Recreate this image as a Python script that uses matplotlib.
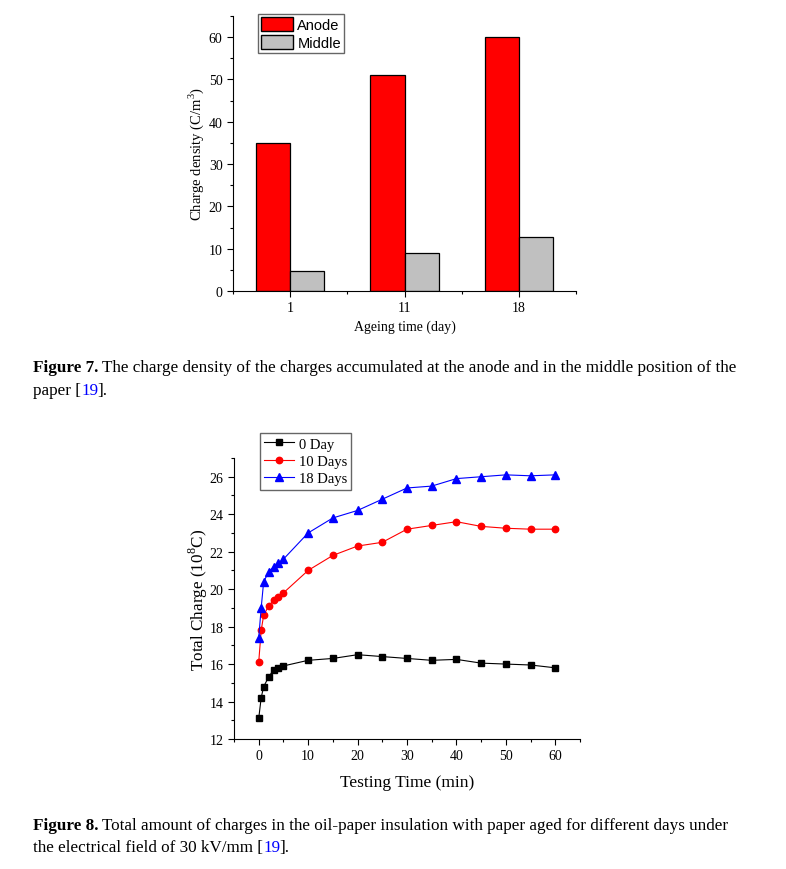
import matplotlib
matplotlib.use("Agg")
import matplotlib.pyplot as plt
from matplotlib.ticker import MultipleLocator
from matplotlib.patches import Patch

# Figure 7 data
ageing_days = ["1", "11", "18"]
anode_density = [35, 51, 60]
middle_density = [4.8, 9.0, 12.7]

# Figure 8 data
test_time = [0, 0.5, 1, 2, 3, 4, 5, 10, 15, 20, 25, 30, 35, 40, 45, 50, 55, 60]
charge_0day = [13.1, 14.2, 14.8, 15.3, 15.7, 15.8, 15.9, 16.2, 16.3, 16.5,
               16.4, 16.3, 16.2, 16.25, 16.05, 16.0, 15.95, 15.8]
charge_10days = [16.1, 17.8, 18.6, 19.1, 19.4, 19.6, 19.8, 21.0, 21.8, 22.3,
                 22.5, 23.2, 23.4, 23.6, 23.35, 23.25, 23.2, 23.2]
charge_18days = [17.4, 19.0, 20.4, 20.9, 21.2, 21.4, 21.6, 23.0, 23.8, 24.2,
                 24.8, 25.4, 25.5, 25.9, 26.0, 26.1, 26.05, 26.1]

SERIF = "Liberation Serif"
SANS = "Liberation Sans"
W, H = 786, 870

plt.rcParams["font.family"] = SERIF
plt.rcParams["mathtext.fontset"] = "custom"
plt.rcParams["mathtext.rm"] = SERIF


def px_axes(fig, left, top, right, bottom):
    return fig.add_axes([left / W, 1 - bottom / H, (right - left) / W, (bottom - top) / H])


def style_axes(ax, size):
    for side in ("top", "right"):
        ax.spines[side].set_visible(False)
    ax.tick_params(which="both", direction="out", labelsize=size, width=0.8)
    ax.tick_params(which="major", length=4)
    ax.tick_params(which="minor", length=2.5)


def caption(fig, x, y, parts, size=12.3):
    # parts: (text, color, bold, nudge_px) placed one after another on one baseline
    renderer = fig.canvas.get_renderer()
    cur = x
    for txt, color, bold, nudge in parts:
        cur += nudge
        t = fig.text(cur / W, 1 - y / H, txt, fontsize=size, family=SERIF,
                     color=color, fontweight="bold" if bold else "normal",
                     va="baseline", ha="left")
        cur = t.get_window_extent(renderer).x1


fig = plt.figure(figsize=(W / 100, H / 100), dpi=100)

# ---- Figure 7: bar chart ----
ax1 = px_axes(fig, 233, 17, 576, 292)
x = range(len(ageing_days))
bw = 0.3
ax1.bar([i - bw / 2 for i in x], anode_density, bw, color="#ff0000",
        edgecolor="black", linewidth=0.9, label="Anode")
ax1.bar([i + bw / 2 for i in x], middle_density, bw, color="#c0c0c0",
        edgecolor="black", linewidth=0.9, label="Middle")
ax1.set_xlim(-0.5, 2.5)
ax1.set_ylim(0, 65)
ax1.set_xticks(list(x))
ax1.set_xticklabels(ageing_days)
ax1.xaxis.set_minor_locator(MultipleLocator(0.5))
ax1.yaxis.set_major_locator(MultipleLocator(10))
ax1.yaxis.set_minor_locator(MultipleLocator(5))
style_axes(ax1, 10)
ax1.set_xlabel("Ageing time (day)", fontsize=10, labelpad=4)
ax1.set_ylabel(r"Charge density (C/m$^{\mathregular{3}}$)", fontsize=10.5, labelpad=2)
handles = [Patch(facecolor="#ff0000", edgecolor="black", label="Anode"),
           Patch(facecolor="#c0c0c0", edgecolor="black", label="Middle")]
ax1.legend(handles=handles, loc="upper left",
           bbox_to_anchor=(258 / W, 1 - 15 / H), bbox_transform=fig.transFigure,
           prop={"family": SANS, "size": 10.5}, frameon=True, fancybox=False,
           edgecolor="#666666", framealpha=1, borderpad=0.2,
           handlelength=2.2, handleheight=1.15, handletextpad=0.3,
           labelspacing=0.2, borderaxespad=0)

# ---- Figure 8: line chart ----
ax2 = px_axes(fig, 234, 459, 580, 740)
ax2.plot(test_time, charge_0day, color="black", marker="s", markersize=4.3,
         linewidth=0.8, label="0 Day")
ax2.plot(test_time, charge_10days, color="red", marker="o", markersize=4.6,
         linewidth=0.8, label="10 Days")
ax2.plot(test_time, charge_18days, color="blue", marker="^", markersize=5.5,
         linewidth=0.8, label="18 Days")
ax2.set_xlim(-5, 65)
ax2.set_ylim(12, 27)
ax2.xaxis.set_major_locator(MultipleLocator(10))
ax2.xaxis.set_minor_locator(MultipleLocator(5))
ax2.yaxis.set_major_locator(MultipleLocator(2))
ax2.yaxis.set_minor_locator(MultipleLocator(1))
style_axes(ax2, 10)
ax2.set_xlabel("Testing Time (min)", fontsize=12.5, labelpad=8)
ax2.set_ylabel(r"Total Charge (10$^{\mathregular{8}}$C)", fontsize=12.3, labelpad=0)
ax2.legend(loc="upper left", bbox_to_anchor=(260 / W, 1 - 434 / H),
           bbox_transform=fig.transFigure, prop={"family": SERIF, "size": 10.5},
           frameon=True, fancybox=False, edgecolor="#666666", framealpha=1,
           borderpad=0.3, handlelength=2.0, handletextpad=0.35,
           labelspacing=0.28, borderaxespad=0)

# ---- Captions ----
caption(fig, 33, 372, [
    ("Figure 7.", "black", True, 0),
    (" The charge density of the charges accumulated at the anode and in the middle position of the",
     "black", False, 0)])
caption(fig, 33, 395, [("paper [", "black", False, 0), ("19", "blue", False, 0.5),
                       ("].", "black", False, -0.8)])
caption(fig, 33, 830, [
    ("Figure 8.", "black", True, 0),
    (" Total amount of charges in the oil-paper insulation with paper aged for different days under",
     "black", False, 0)])
caption(fig, 33, 852, [("the electrical field of 30 kV/mm [", "black", False, 0),
                       ("19", "blue", False, 0.5), ("].", "black", False, -0.8)])

fig.savefig("out.png", dpi=100)
